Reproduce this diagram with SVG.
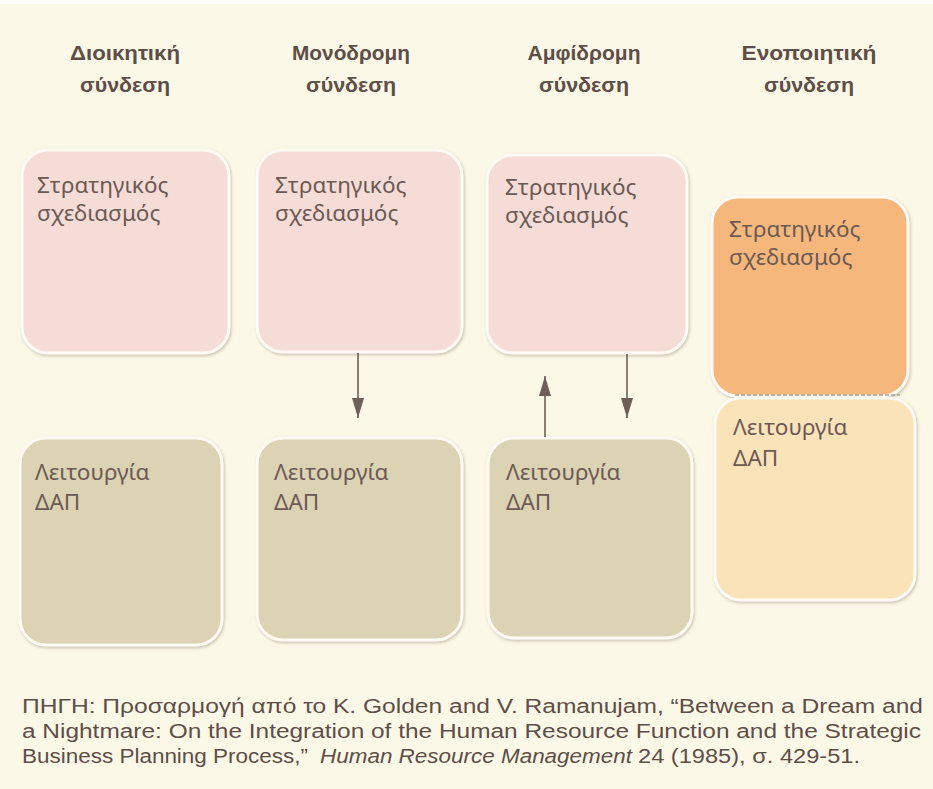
<svg xmlns="http://www.w3.org/2000/svg" width="933" height="789" viewBox="0 0 933 789">
<defs>
<filter id="sh" x="-10%" y="-10%" width="120%" height="120%">
<feDropShadow dx="1" dy="1.5" stdDeviation="1.5" flood-color="#8a7a6a" flood-opacity="0.45"/>
</filter>
<marker id="ah" viewBox="0 0 20 12" refX="20" refY="6" markerWidth="20" markerHeight="12" markerUnits="userSpaceOnUse" orient="auto">
<path d="M0,0 L20,6 L0,12 Z" fill="#6e5f58"/>
</marker>
</defs>
<style>
.hdr{font-family:"Liberation Sans",Arial,sans-serif;font-weight:bold;font-size:21px;fill:#5e4e48;text-anchor:middle}
.lbl{font-family:"Noto Sans","DejaVu Sans",sans-serif;font-size:22.5px;fill:#6b5a54}
.pink{fill:#f6dcd7;stroke:#fffaf3;stroke-width:3;filter:url(#sh)}
.khaki{fill:#dcd2b4;stroke:#fffaf3;stroke-width:3;filter:url(#sh)}
.orange{fill:#f6b77c;stroke:#fffaf3;stroke-width:3;filter:url(#sh)}
.peach{fill:#fae2b9;stroke:#fffaf3;stroke-width:3;filter:url(#sh)}
.conn{stroke:#6e5f58;stroke-width:1.6;fill:none}
.foot{font-family:"Liberation Sans",Arial,sans-serif;font-size:19.5px;fill:#5e4e48}
</style>
<rect x="0" y="0" width="933" height="789" fill="#fcf8e7"/>
<rect x="0" y="0" width="933" height="4" fill="#ffffff"/>

<g id="headers">
<text class="hdr" x="125" y="60" textLength="110" lengthAdjust="spacingAndGlyphs">Διοικητική</text>
<text class="hdr" x="125" y="92" textLength="90" lengthAdjust="spacingAndGlyphs">σύνδεση</text>
<text class="hdr" x="351" y="60" textLength="118" lengthAdjust="spacingAndGlyphs">Μονόδρομη</text>
<text class="hdr" x="351" y="92" textLength="90" lengthAdjust="spacingAndGlyphs">σύνδεση</text>
<text class="hdr" x="584" y="60" textLength="113" lengthAdjust="spacingAndGlyphs">Αμφίδρομη</text>
<text class="hdr" x="584" y="92" textLength="90" lengthAdjust="spacingAndGlyphs">σύνδεση</text>
<text class="hdr" x="809" y="60" textLength="135" lengthAdjust="spacingAndGlyphs">Ενοποιητική</text>
<text class="hdr" x="809" y="92" textLength="90" lengthAdjust="spacingAndGlyphs">σύνδεση</text>
</g>

<g id="sp1"><rect class="pink" x="22" y="150" width="207" height="203" rx="26"/>
<text class="lbl" x="37" y="193">Στρατηγικός</text><text class="lbl" x="37" y="221">σχεδιασμός</text></g>
<g id="sp2"><rect class="pink" x="257" y="150" width="205" height="202" rx="26"/>
<text class="lbl" x="275" y="193">Στρατηγικός</text><text class="lbl" x="275" y="221">σχεδιασμός</text></g>
<g id="sp3"><rect class="pink" x="487" y="155" width="200" height="198" rx="26"/>
<text class="lbl" x="505" y="195">Στρατηγικός</text><text class="lbl" x="505" y="223">σχεδιασμός</text></g>
<g id="sp4"><rect class="orange" x="712" y="197" width="196" height="199" rx="26"/>
<line x1="735" y1="395" x2="900" y2="395" stroke="#8a7a70" stroke-width="1" stroke-dasharray="4,2"/>
<text class="lbl" x="729" y="237">Στρατηγικός</text><text class="lbl" x="729" y="265">σχεδιασμός</text></g>

<g id="hr1"><rect class="khaki" x="20" y="438" width="202" height="207" rx="26"/>
<text class="lbl" x="35" y="480">Λειτουργία</text><text class="lbl" x="35" y="510">ΔΑΠ</text></g>
<g id="hr2"><rect class="khaki" x="257" y="438" width="205" height="202" rx="26"/>
<text class="lbl" x="274" y="480">Λειτουργία</text><text class="lbl" x="274" y="510">ΔΑΠ</text></g>
<g id="hr3"><rect class="khaki" x="488" y="438" width="204" height="200" rx="26"/>
<text class="lbl" x="506" y="480">Λειτουργία</text><text class="lbl" x="506" y="510">ΔΑΠ</text></g>
<g id="hr4"><rect class="peach" x="715" y="398" width="200" height="202" rx="26"/>
<text class="lbl" x="733" y="435">Λειτουργία</text><text class="lbl" x="733" y="466">ΔΑΠ</text></g>

<g id="connectors">
<line class="conn" x1="358" y1="353" x2="358" y2="418" marker-end="url(#ah)"/>
<line class="conn" x1="545" y1="437" x2="545" y2="376" marker-end="url(#ah)"/>
<line class="conn" x1="627" y1="354" x2="627" y2="418" marker-end="url(#ah)"/>
</g>

<g id="source">
<text class="foot" x="22" y="713" textLength="901" lengthAdjust="spacingAndGlyphs">ΠΗΓΗ: Προσαρμογή από το K. Golden and V. Ramanujam, “Between a Dream and</text>
<text class="foot" x="22" y="738" textLength="899" lengthAdjust="spacingAndGlyphs">a Nightmare: On the Integration of the Human Resource Function and the Strategic</text>
<text class="foot" x="22" y="763" textLength="286" lengthAdjust="spacingAndGlyphs">Business Planning Process,”</text>
<text class="foot" x="320" y="763" textLength="312" lengthAdjust="spacingAndGlyphs" font-style="italic">Human Resource Management</text>
<text class="foot" x="638" y="763" textLength="222" lengthAdjust="spacingAndGlyphs">24 (1985), σ. 429-51.</text>
</g>
</svg>
